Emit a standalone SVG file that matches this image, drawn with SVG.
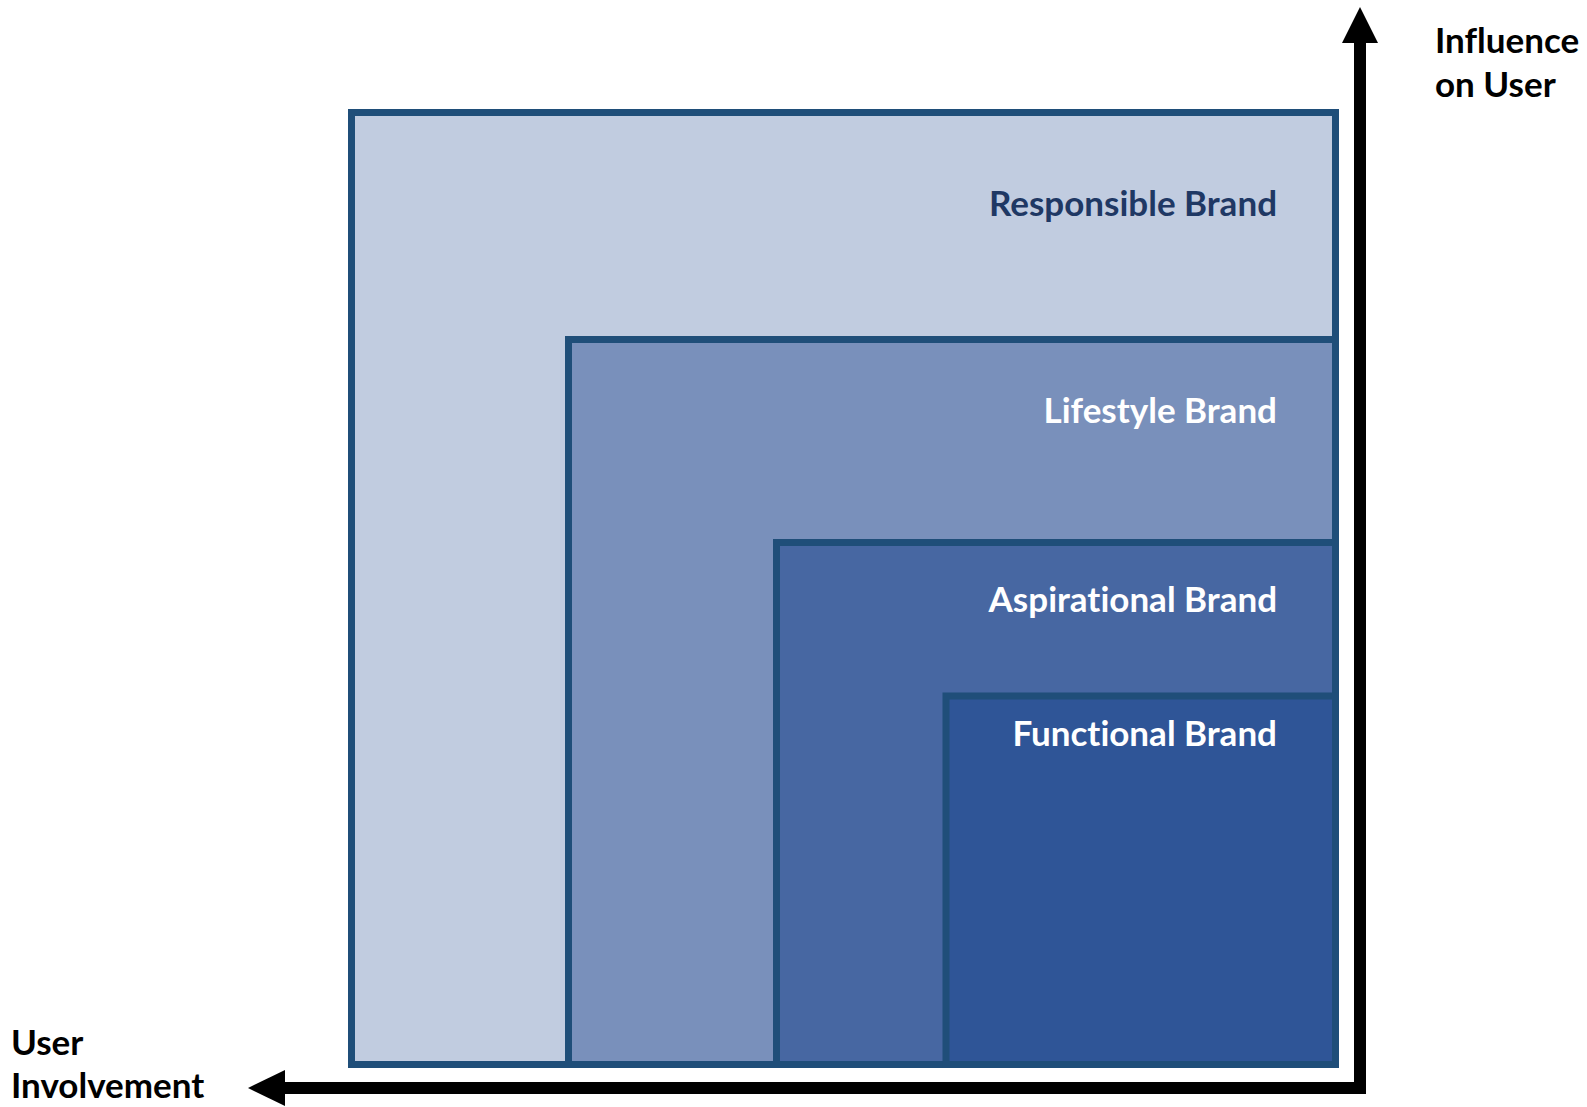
<svg xmlns="http://www.w3.org/2000/svg" width="1587" height="1107" viewBox="0 0 1587 1107">
<style>
.box{stroke:#1F4E79;stroke-width:7}
.lbl{font-family:Lato,"Open Sans","Liberation Sans",sans-serif;font-weight:bold;font-size:35px;text-anchor:end;fill:#FFFFFF;font-variant-ligatures:none;font-feature-settings:"liga" 0,"dlig" 0}
.ax{font-family:Lato,"Open Sans","Liberation Sans",sans-serif;font-weight:bold;font-size:35px;fill:#000000;font-variant-ligatures:none;font-feature-settings:"liga" 0,"dlig" 0}
</style>
<rect width="1587" height="1107" fill="#FFFFFF"/>
<g id="responsible">
<rect class="box" x="351.5" y="112.5" width="984" height="952" fill="#C1CCE0"/>
<text class="lbl" x="1277" y="216" style="fill:#1F3864">Responsible Brand</text>
</g>
<g id="lifestyle">
<rect class="box" x="568.5" y="339.5" width="767" height="725" fill="#7990BB"/>
<text class="lbl" x="1277" y="423">Lifestyle Brand</text>
</g>
<g id="aspirational">
<rect class="box" x="776.5" y="542.5" width="559" height="522" fill="#4767A2"/>
<text class="lbl" x="1277" y="612">Aspirational Brand</text>
</g>
<g id="functional">
<rect class="box" x="946" y="696" width="389.5" height="368.5" fill="#2F5597"/>
<text class="lbl" x="1277" y="746">Functional Brand</text>
</g>
<g id="connectors">
<polyline points="1360,40 1360,1088 282,1088" fill="none" stroke="#000000" stroke-width="12" stroke-linejoin="miter"/>
<polygon points="1342,43 1378,43 1360,7" fill="#000000"/>
<polygon points="285,1070 285,1106 248,1088" fill="#000000"/>
</g>
<g id="axis-labels">
<text class="ax" x="1435" y="53">Influence</text>
<text class="ax" x="1435" y="97">on User</text>
<text class="ax" x="11" y="1055">User</text>
<text class="ax" x="11" y="1098">Involvement</text>
</g>
</svg>
